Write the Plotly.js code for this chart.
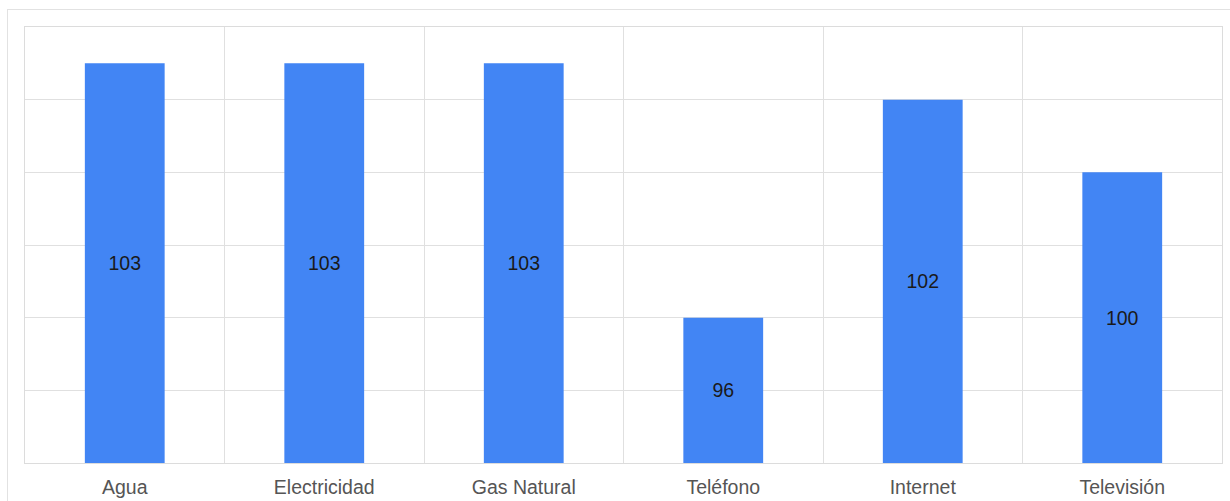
<!DOCTYPE html>
<html>
<head>
<meta charset="utf-8">
<script src="https://cdn.plot.ly/plotly-3.0.1.min.js"></script>
<style>
  html, body { margin: 0; padding: 0; width: 1230px; height: 501px; overflow: hidden; background: #fff; }
  #frame { position: absolute; left: 7px; top: 9px; width: 1300px; height: 600px;
           border: 1.5px solid #e2e2e2; box-sizing: border-box; }
  #chart { position: absolute; left: 0; top: 0; width: 1230px; height: 501px; }
</style>
</head>
<body>
<div id="frame"></div>
<div id="chart"></div>
<script>
// Services and their index values
const categories = ['Agua', 'Electricidad', 'Gas Natural', 'Teléfono', 'Internet', 'Televisión'];
const values = [103, 103, 103, 96, 102, 100];
const valueLabels = values.map(v => String(v));

// Value axis starts at 92, so bars are drawn from that baseline up to each value
const axisMin = 92;
const axisMax = 104;

const trace = {
  type: 'bar',
  x: categories,
  base: values.map(() => axisMin),
  y: values.map(v => v - axisMin),
  text: valueLabels,
  textposition: 'inside',
  insidetextanchor: 'middle',
  constraintext: 'none',
  textfont: { family: 'Liberation Sans, Arial, sans-serif', size: 19.5, color: '#1a1a1a' },
  marker: { color: '#4285f4', line: { width: 0 } },
  hoverinfo: 'x+text'
};

const layout = {
  width: 1230,
  height: 501,
  margin: { l: 25, r: 8, t: 27, b: 38, pad: 0 },
  paper_bgcolor: 'rgba(0,0,0,0)',
  plot_bgcolor: 'rgba(0,0,0,0)',
  bargap: 0.6,
  showlegend: false,
  font: { family: 'Liberation Sans, Arial, sans-serif', size: 19, color: '#555555' },
  xaxis: {
    type: 'category',
    tickson: 'boundaries',
    ticks: '',
    ticklabelstandoff: 7,
    showgrid: true,
    gridcolor: '#e0e0e0',
    gridwidth: 1,
    showline: true,
    mirror: true,
    linecolor: '#dcdcdc',
    linewidth: 1,
    tickfont: { size: 19.5, color: '#555555' },
    fixedrange: true
  },
  yaxis: {
    range: [axisMin, axisMax],
    dtick: 2,
    tick0: axisMin,
    showticklabels: false,
    ticks: '',
    showgrid: true,
    gridcolor: '#e0e0e0',
    gridwidth: 1,
    zeroline: false,
    showline: true,
    mirror: true,
    linecolor: '#dcdcdc',
    linewidth: 1,
    fixedrange: true
  }
};

Plotly.newPlot('chart', [trace], layout, { displayModeBar: false, staticPlot: true });
</script>
</body>
</html>
